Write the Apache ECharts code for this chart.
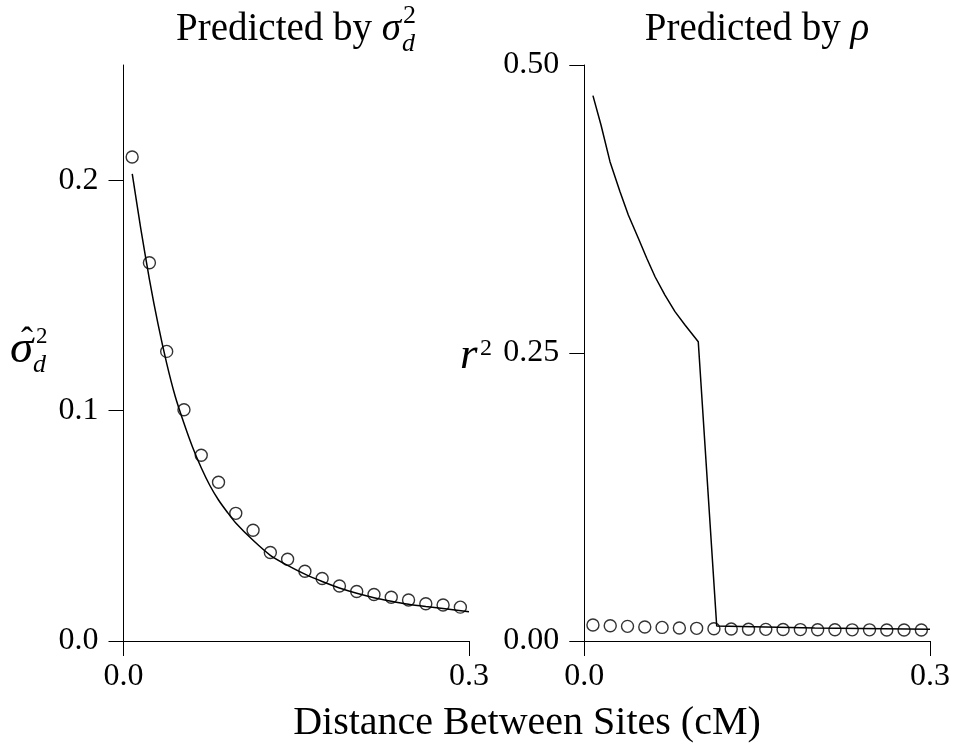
<!DOCTYPE html>
<html><head><meta charset="utf-8">
<script src="https://cdn.jsdelivr.net/npm/echarts@6/dist/echarts.min.js"></script>
<style>html,body{margin:0;padding:0;background:#fff}#c{width:954px;height:745px}</style>
</head><body><div id="c"></div>
<script>
// ---- data ----
const distX = [0.0075,0.0225,0.0375,0.0525,0.0675,0.0825,0.0975,0.1125,0.1275,0.1425,
               0.1575,0.1725,0.1875,0.2025,0.2175,0.2325,0.2475,0.2625,0.2775,0.2925];
const sigmaObs = [0.2101,0.1642,0.1257,0.1004,0.0806,0.0689,0.0554,0.0481,0.0384,0.0355,
                  0.0303,0.0271,0.0239,0.0215,0.0202,0.0190,0.0178,0.0162,0.0156,0.0147];
const sigmaPredX = [0.0076,0.0150,0.0225,0.0300,0.0375,0.0450,0.0525,0.0600,0.0675,0.0750,
                    0.0825,0.0900,0.0975,0.1125,0.1275,0.1425,0.1575,0.1725,0.1875,0.2025,
                    0.2175,0.2325,0.2475,0.2625,0.2775,0.3000];
const sigmaPredY = [0.2027,0.1790,0.1570,0.1375,0.1205,0.1060,0.0945,0.0841,0.0752,0.0675,
                    0.0612,0.0560,0.0512,0.0437,0.0372,0.0328,0.0290,0.0258,0.0230,0.0207,
                    0.0188,0.0173,0.0160,0.0150,0.0141,0.0127];
const rhoObs = [0.0139,0.0133,0.0127,0.0122,0.0118,0.0113,0.0110,0.0106,0.0104,0.0102,
                0.0101,0.0100,0.0099,0.0098,0.0098,0.0097,0.0097,0.0096,0.0096,0.0096];
const rhoPredX = [0.0075,0.0145,0.0223,0.0310,0.0382,0.0469,0.0542,0.0614,0.0700,0.0787,
                  0.0874,0.0989,0.1149,0.2000,0.3000];
const rhoPredY = [0.4734,0.4479,0.4161,0.3900,0.3698,0.3496,0.3322,0.3162,0.3003,0.2859,
                  0.2743,0.2598,0.0130,0.0112,0.0102];
const xTicks = [0, 0.3];
const leftYTicks = [0, 0.1, 0.2];
const rightYTicks = [0, 0.25, 0.5];
const leftYMax = 0.25, rightYMax = 0.5, xMax = 0.3;

// ---- chart ----
const FF = '"Liberation Serif", "Times New Roman", serif';
const chart = echarts.init(document.getElementById('c'), null, {renderer:'canvas'});
const zip = (a,b) => a.map((v,i) => [v, b[i]]);

function xAxisDef(idx){
  return {
    type:'value', gridIndex:idx, min:0, max:xMax,
    axisLine:{show:true, onZero:false, lineStyle:{color:'#000', width:1}},
    axisTick:{show:true, length:15, customValues:xTicks, lineStyle:{color:'#000', width:1}},
    axisLabel:{customValues:xTicks, formatter:v=>v.toFixed(1), margin:20,
               fontFamily:FF, fontSize:32, color:'#000'},
    splitLine:{show:false}
  };
}
function yAxisDef(idx, max, ticks, dec){
  return {
    type:'value', gridIndex:idx, min:0, max:max,
    axisLine:{show:true, onZero:false, lineStyle:{color:'#000', width:1}},
    axisTick:{show:true, length:15, customValues:ticks, lineStyle:{color:'#000', width:1}},
    axisLabel:{customValues:ticks, formatter:v=>v.toFixed(dec), margin:25,
               fontFamily:FF, fontSize:32, color:'#000'},
    splitLine:{show:false}
  };
}
const pointStyle = {color:'rgba(0,0,0,0)', borderColor:'#000', borderWidth:1.4};

// text helpers
const ctx = document.createElement('canvas').getContext('2d');
function fontStr(size, italic){ return (italic?'italic ':'') + size + 'px ' + FF; }
function measure(str, size, italic){ ctx.font = fontStr(size, italic); return ctx.measureText(str).width; }
function baselineTxt(x, baseline, str, size, italic, align){
  return {type:'text', x:x, y:baseline - 0.33*size, silent:true,
    style:{text:str, font:fontStr(size, italic), fill:'#000',
           align:align||'left', textAlign:align||'left',
           verticalAlign:'middle', textVerticalAlign:'middle'}};
}

const TS = 39, SS = 26, TB = 43;
const graphics = [];
// left title: Predicted by sigma_d^2
(function(){
  const w1 = measure('Predicted by ', TS, false);
  const ws = measure('σ', TS, true);
  const wsc = Math.max(measure('2', SS, false), measure('d', SS, true));
  const total = w1 + ws + 2 + wsc;
  const x0 = 296 - total/2;
  graphics.push(baselineTxt(x0, TB, 'Predicted by ', TS, false));
  graphics.push(baselineTxt(x0 + w1, TB, 'σ', TS, true));
  graphics.push(baselineTxt(x0 + w1 + ws + 2, TB - 18, '2', SS, false));
  graphics.push(baselineTxt(x0 + w1 + ws + 1, TB + 10, 'd', SS, true));
})();
// right title: Predicted by rho
(function(){
  const w1 = measure('Predicted by ', TS, false);
  const wr = measure('ρ', TS, true);
  const x0 = 757 - (w1 + wr)/2;
  graphics.push(baselineTxt(x0, TB, 'Predicted by ', TS, false));
  graphics.push(baselineTxt(x0 + w1, TB, 'ρ', TS, true));
})();
// left y label: sigma-hat_d^2
graphics.push(baselineTxt(10, 365, 'σ', 47, true));
graphics.push(baselineTxt(27, 354, 'ˆ', 36, false, 'center'));
graphics.push(baselineTxt(36, 345, '2', 23, false));
graphics.push(baselineTxt(33, 374, 'd', 26, true));
// right y label: r^2
graphics.push(baselineTxt(460, 371, 'r', 45, true));
graphics.push(baselineTxt(480, 357, '2', 24, false));
// x axis title
graphics.push(baselineTxt(527, 737, 'Distance Between Sites (cM)', 40, false, 'center'));

chart.setOption({
  animation:false,
  backgroundColor:'#fff',
  grid:[
    {left:123.5, right:954-469, top:65, bottom:745-641, containLabel:false},
    {left:584.3, right:954-930, top:65, bottom:745-641, containLabel:false}
  ],
  xAxis:[xAxisDef(0), xAxisDef(1)],
  yAxis:[yAxisDef(0, leftYMax, leftYTicks, 1), yAxisDef(1, rightYMax, rightYTicks, 2)],
  series:[
    {type:'line', xAxisIndex:0, yAxisIndex:0, data:zip(sigmaPredX, sigmaPredY),
     showSymbol:false, smooth:0.25, lineStyle:{color:'#000', width:1.5}, z:2},
    {type:'scatter', xAxisIndex:0, yAxisIndex:0, data:zip(distX, sigmaObs),
     symbol:'circle', symbolSize:12, itemStyle:pointStyle, z:3},
    {type:'line', xAxisIndex:1, yAxisIndex:1, data:zip(rhoPredX, rhoPredY),
     showSymbol:false, smooth:false, lineStyle:{color:'#000', width:1.5}, z:2},
    {type:'scatter', xAxisIndex:1, yAxisIndex:1, data:zip(distX, rhoObs),
     symbol:'circle', symbolSize:12, itemStyle:pointStyle, z:3}
  ],
  graphic:graphics
});
</script></body></html>
